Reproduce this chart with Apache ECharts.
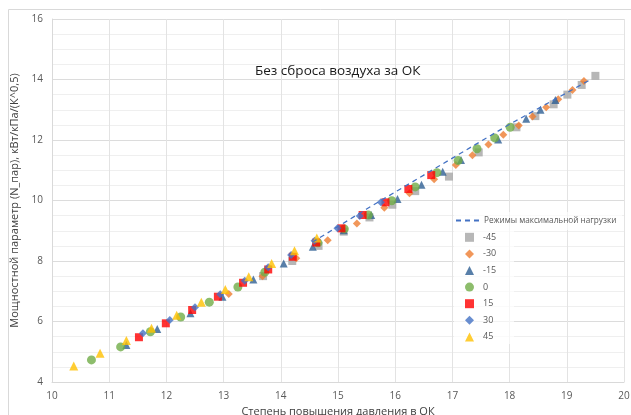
<!DOCTYPE html>
<html>
<head>
<meta charset="utf-8">
<script src="https://cdn.jsdelivr.net/npm/echarts@6/dist/echarts.min.js"></script>
<style>
html,body{margin:0;padding:0;background:#fff;}
#c{width:631px;height:415px;}
</style>
</head>
<body>
<div id="c"></div>
<script>
const chartTitle = 'Без сброса воздуха за ОК';
const xAxisName = 'Степень повышения давления в ОК';
const yAxisName = 'Мощностной параметр (N_пар), кВт/кПа/(К^0,5)';
const lineName = 'Режимы максимальной нагрузки';

const maxLoad = [[14.55,8.62],[15.5,9.72],[16.5,10.84],[18.0,12.52],[19.4,13.98]];

const sM45 = [[13.69,7.5],[14.2,8.0],[14.66,8.5],[15.1,8.97],[15.55,9.44],[15.95,9.86],[16.35,10.31],[16.94,10.79],[17.46,11.59],[18.12,12.42],[18.45,12.79],[18.77,13.18],[19.01,13.5],[19.26,13.82],[19.5,14.12]];
const sM30 = [[13.09,6.91],[13.68,7.5],[14.27,8.09],[14.82,8.69],[15.33,9.24],[15.81,9.76],[16.25,10.24],[16.68,10.7],[17.06,11.17],[17.35,11.5],[17.63,11.85],[17.89,12.17],[18.16,12.48],[18.4,12.78],[18.64,13.08],[18.85,13.35],[19.1,13.65],[19.3,13.95]];
const sM15 = [[11.3,5.22],[11.84,5.75],[12.42,6.27],[12.98,6.82],[13.52,7.39],[14.05,7.92],[14.56,8.47],[15.1,9.02],[15.58,9.52],[16.04,10.05],[16.46,10.52],[16.83,10.95],[17.15,11.34],[17.8,12.02],[18.29,12.7],[18.54,13.0],[18.8,13.32]];
const s0 = [[10.69,4.73],[11.2,5.16],[11.72,5.66],[12.25,6.15],[12.75,6.64],[13.25,7.14],[13.72,7.63],[14.65,8.6],[15.11,9.06],[15.53,9.52],[15.94,9.99],[16.35,10.45],[16.73,10.92],[17.1,11.32],[17.43,11.71],[17.74,12.07],[18.01,12.42]];
const s15 = [[11.52,5.48],[11.99,5.94],[12.45,6.38],[12.9,6.82],[13.34,7.28],[13.78,7.72],[14.21,8.14],[14.62,8.61],[15.06,9.08],[15.43,9.52],[15.83,9.94],[16.23,10.38],[16.63,10.84]];
const s30 = [[11.59,5.61],[12.06,6.05],[12.5,6.47],[12.94,6.9],[13.37,7.35],[13.78,7.79],[14.18,8.2],[14.59,8.67],[14.99,9.08],[15.38,9.49],[15.75,9.94]];
const s45 = [[10.38,4.53],[10.84,4.95],[11.3,5.37],[11.74,5.78],[12.18,6.21],[12.61,6.64],[13.03,7.06],[13.44,7.48],[13.84,7.92],[14.24,8.34],[14.63,8.76]];

const seriesNames = ['-45','-30','-15','0','15','30','45'];
const xTicks = [10,11,12,13,14,15,16,17,18,19,20];
const yTicks = [4,6,8,10,12,14,16];

const chart = echarts.init(document.getElementById('c'));
const font = "'Open Sans', 'Noto Sans', sans-serif";
function sc(name, data, symbol, size, color){
  return {name:name, type:'scatter', data:data, symbol:symbol, symbolSize:size,
    itemStyle:{color:color}, z:3};
}
chart.setOption({
  animation:false,
  textStyle:{fontFamily:font},
  graphic:[
    {type:'rect', shape:{x:8.5,y:9.5,width:640,height:430}, style:{fill:'none', stroke:'#d9d9d9', lineWidth:1}, z:-10},
    {type:'rect', shape:{x:454,y:212,width:168,height:18}, style:{fill:'rgba(255,255,255,0.65)'}, z:1},
    {type:'rect', shape:{x:454,y:230,width:60,height:114}, style:{fill:'rgba(255,255,255,0.65)'}, z:1}
  ],
  title:{text:chartTitle, left:250, top:59, textStyle:{fontSize:13.5, fontWeight:'normal', color:'#1a1a1a', fontFamily:font}},
  grid:{left:52, right:7, top:19, bottom:33, outerBoundsMode:'none', containLabel:false},
  legend:[
    {orient:'vertical', left:455, top:216, itemWidth:23, itemHeight:9, padding:0,
     textStyle:{fontSize:8.2, color:'#595959', fontFamily:font, lineHeight:9},
     data:[{name:lineName, itemStyle:{opacity:0}}]},
    {orient:'vertical', left:465, top:232.8, itemWidth:9, itemHeight:9, itemGap:7.6, padding:0,
     textStyle:{fontSize:9, color:'#595959', fontFamily:font, lineHeight:9, padding:[0,0,0,4]},
     data:seriesNames}
  ],
  xAxis:{type:'value', min:xTicks[0], max:xTicks[xTicks.length-1], interval:1,
    name:xAxisName, nameLocation:'middle', nameGap:24,
    nameTextStyle:{fontSize:11, color:'#404040'},
    axisLine:{show:true, lineStyle:{color:'#d9d9d9'}}, axisTick:{show:false},
    axisLabel:{fontSize:10, color:'#595959', margin:9},
    splitLine:{show:true, lineStyle:{color:'#e3e3e3'}}},
  yAxis:{type:'value', min:yTicks[0], max:yTicks[yTicks.length-1], interval:2,
    name:yAxisName, nameLocation:'middle', nameGap:5,
    nameTextStyle:{fontSize:11, color:'#404040'},
    axisLine:{show:true, lineStyle:{color:'#d9d9d9'}}, axisTick:{show:false},
    axisLabel:{fontSize:10, color:'#595959', margin:9},
    splitLine:{show:true, lineStyle:{color:'#dcdcdc'}},
    minorTick:{show:false, splitNumber:4},
    minorSplitLine:{show:true, lineStyle:{color:'#efefef'}}},
  series:[
    {name:lineName, type:'line', data:maxLoad, showSymbol:false, symbol:'none',
      lineStyle:{color:'#4472c4', width:1.3, type:[5,4]}, itemStyle:{color:'#4472c4'}, z:4},
    sc(seriesNames[0], sM45, 'rect', 8, '#a5a5a5'),
    sc(seriesNames[1], sM30, 'diamond', 8, '#ed7d31'),
    sc(seriesNames[2], sM15, 'triangle', 8, '#2e5f94'),
    sc(seriesNames[3], s0, 'circle', 9, '#70ad47'),
    sc(seriesNames[4], s15, 'rect', 8, '#ff0000'),
    sc(seriesNames[5], s30, 'diamond', 8, '#4472c4'),
    sc(seriesNames[6], s45, 'triangle', 9, '#ffc000')
  ]
});
</script>
</body>
</html>
